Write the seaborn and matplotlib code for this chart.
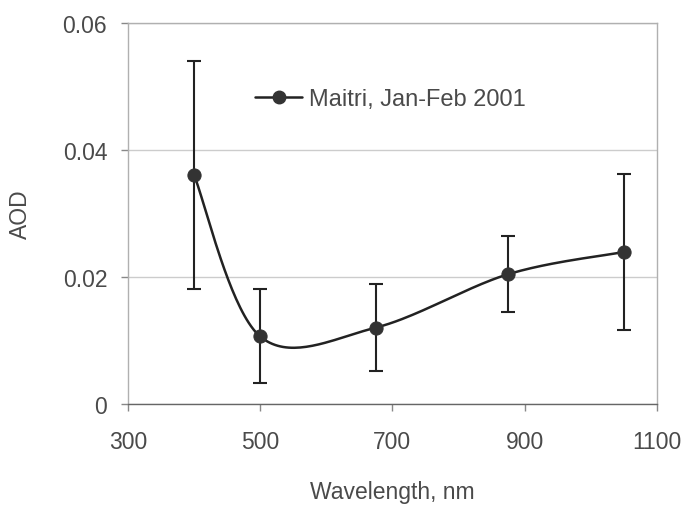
import numpy as np
import matplotlib
matplotlib.use("Agg")
import matplotlib.pyplot as plt
from matplotlib.lines import Line2D
import seaborn as sns

# values
wavelength = [400, 500, 675, 875, 1050]
aod = [0.036, 0.0106, 0.012, 0.0204, 0.0239]
aod_err = [0.018, 0.0074, 0.0068, 0.006, 0.0123]
series_label = "Maitri, Jan-Feb 2001"
xticks = [300, 500, 700, 900, 1100]
yticks = [0, 0.02, 0.04, 0.06]
ytick_labels = ["0", "0.02", "0.04", "0.06"]

sns.set_style("white")
plt.rcParams["font.family"] = ["Liberation Sans", "DejaVu Sans"]

fig, ax = plt.subplots(figsize=(6.92, 5.06), dpi=100)
fig.subplots_adjust(left=0.185, right=0.949, top=0.953, bottom=0.2)

# excel-style smoothed line (bezier through the points)
x = np.array(wavelength, dtype=float)
y = np.array(aod)
xs, ys = [], []
t = np.linspace(0, 1, 40)
for i in range(len(x) - 1):
    p0 = np.array([x[max(i - 1, 0)], y[max(i - 1, 0)]])
    p1 = np.array([x[i], y[i]])
    p2 = np.array([x[i + 1], y[i + 1]])
    p3 = np.array([x[min(i + 2, len(x) - 1)], y[min(i + 2, len(x) - 1)]])
    c1 = p1 + (p2 - p0) / 6
    c2 = p2 - (p3 - p1) / 6
    for tt in t:
        b = ((1 - tt) ** 3) * p1 + 3 * ((1 - tt) ** 2) * tt * c1 + 3 * (1 - tt) * tt ** 2 * c2 + tt ** 3 * p2
        xs.append(b[0])
        ys.append(b[1])
ax.plot(xs, ys, color="#222222", lw=1.8, zorder=3)

ax.errorbar(wavelength, aod, yerr=aod_err, fmt="none", ecolor="#222222",
            elinewidth=1.5, capsize=5, capthick=1.5, zorder=2)
sns.scatterplot(x=wavelength, y=aod, ax=ax, color="#333333", s=90,
                edgecolor="#333333", zorder=4, legend=False)

txt = "#4a4a4a"
ax.set_xlim(300, 1100)
ax.set_ylim(0, 0.06)
ax.set_xticks(xticks)
ax.set_yticks(yticks)
ax.set_yticklabels(ytick_labels)
ax.grid(axis="y", color="#cccccc", lw=1)
for s in ax.spines.values():
    s.set_color("#b0b0b0")
    s.set_linewidth(1)
ax.spines["bottom"].set_color("#666666")
ax.tick_params(axis="both", labelsize=16.5, labelcolor=txt, colors="#888888",
               direction="out", length=5, width=1, bottom=True, left=True)
ax.tick_params(axis="x", pad=14)
ax.tick_params(axis="y", pad=10)
ax.set_xlabel("Wavelength, nm", fontsize=16.5, color=txt)
ax.set_ylabel("AOD", fontsize=16.5, color=txt)
ax.xaxis.set_label_coords(0.5, -0.2)
ax.yaxis.set_label_coords(-0.182, 0.5)

handle = Line2D([], [], color="#222222", lw=1.8, marker="o", markersize=9,
                markerfacecolor="#333333", markeredgecolor="#333333")
ax.legend([handle], [series_label], loc="center left", bbox_to_anchor=(0.2, 0.8),
          frameon=False, fontsize=17, handlelength=2.0, handletextpad=0.3,
          labelcolor=txt)

plt.savefig("out.png", dpi=100)
